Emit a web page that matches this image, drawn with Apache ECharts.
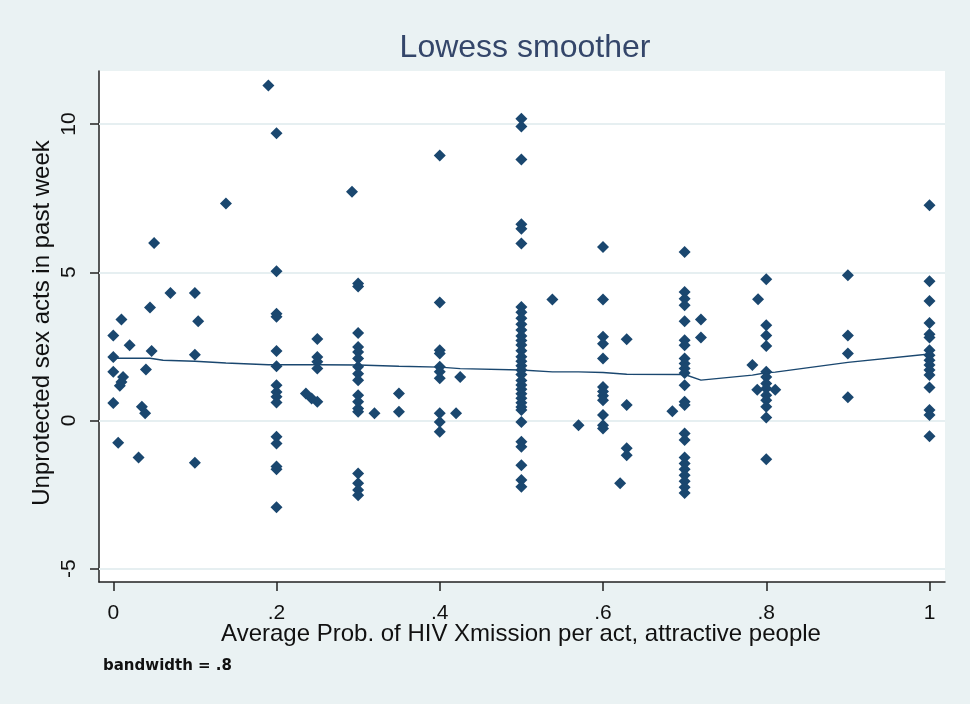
<!DOCTYPE html>
<html>
<head>
<meta charset="utf-8">
<title>Lowess smoother</title>
<script src="https://cdn.jsdelivr.net/npm/echarts@6/dist/echarts.min.js"></script>
<style>
  html, body { margin: 0; padding: 0; background: #eaf2f3; }
  #chart { width: 970px; height: 704px; }
</style>
</head>
<body>
<div id="chart"></div>
<script>
// x value of each column of points (prob. of HIV transmission per act)
const groupX = [
  0, 0.006, 0.008, 0.01, 0.012, 0.02, 0.031, 0.035, 0.039, 0.04, 0.045, 0.047, 0.05, 0.07,
  0.1, 0.104, 0.138, 0.19, 0.2, 0.236, 0.243, 0.25, 0.2925, 0.3, 0.32, 0.35,
  0.4, 0.42, 0.425, 0.5, 0.538, 0.57, 0.6, 0.621, 0.629, 0.685, 0.7, 0.72,
  0.783, 0.789, 0.79, 0.8, 0.811, 0.9, 1
]
// unprotected sex acts for the points in each column
const groupY = [
  [2.87, 2.14, 1.64, 0.59], [-0.75], [1.17], [3.41, 1.3], [1.47], [2.54], [-1.25], [0.46], [0.24],
  [1.72], [3.81], [2.34], [5.99], [4.3],
  [4.3, 2.22, -1.43], [3.35], [7.32], [11.3],
  [9.69, 5.03, 3.6, 3.5, 2.34, 1.83, 1.19, 0.96, 0.8, 0.61, -0.55, -0.78, -1.55, -1.65, -2.93],
  [0.91], [0.74], [2.75, 2.14, 1.98, 1.75, 0.63], [7.72],
  [4.62, 4.52, 2.95, 2.48, 2.31, 2.09, 1.81, 1.58, 1.36, 0.85, 0.63, 0.4, 0.29, -1.79, -2.12, -2.35, -2.52],
  [0.24], [0.91, 0.29],
  [8.94, 3.98, 2.37, 2.26, 1.81, 1.64, 1.42, 0.24, -0.05, -0.38], [0.24], [1.47],
  [10.18, 9.92, 8.8, 6.62, 6.47, 5.97, 3.83, 3.65, 3.45, 3.25, 3.05, 2.85, 2.7, 2.55, 2.35, 2.15,
   2.0, 1.85, 1.7, 1.55, 1.35, 1.2, 1.05, 0.9, 0.75, 0.6, 0.45, 0.35, -0.05, -0.72, -0.89, -1.51, -2.01, -2.24],
  [4.08], [-0.16],
  [5.85, 4.08, 2.82, 2.59, 2.09, 1.13, 0.98, 0.83, 0.68, 0.18, -0.16, -0.27], [-2.12],
  [2.74, 0.52, -0.94, -1.17], [0.31],
  [5.68, 4.33, 4.11, 3.89, 3.35, 2.71, 2.54, 2.09, 1.92, 1.75, 1.6, 1.19, 0.63, 0.52, -0.44, -0.66,
   -1.25, -1.45, -1.65, -1.85, -2.05, -2.25, -2.45],
  [3.41, 2.8],
  [1.87], [1.04], [4.09],
  [4.76, 3.21, 2.87, 2.51, 1.64, 1.47, 1.25, 1.08, 0.85, 0.68, 0.46, 0.1, -1.31], [1.04],
  [4.9, 2.87, 2.26, 0.78],
  [7.26, 4.7, 4.03, 3.29, 2.91, 2.8, 2.37, 2.2, 2.03, 1.87, 1.7, 1.53, 1.11, 0.35, 0.18, -0.53]
]
// lowess fit, bandwidth .8
const lowessX = [0, 0.045, 0.061, 0.1, 0.138, 0.19, 0.2, 0.25, 0.3, 0.35, 0.4, 0.425, 0.5, 0.538,
  0.57, 0.6, 0.629, 0.7, 0.72, 0.783, 0.8, 0.811, 0.9, 1]
const lowessY = [2.1, 2.1, 2.03, 2.0, 1.94, 1.88, 1.88, 1.88, 1.87, 1.83, 1.8, 1.75, 1.7, 1.64,
  1.64, 1.62, 1.56, 1.55, 1.36, 1.53, 1.61, 1.63, 1.96, 2.24]
const xTicks = [0, 0.2, 0.4, 0.6, 0.8, 1]
const yTicks = [-5, 0, 5, 10]

const navy = '#1a476f'
const font = '"Liberation Sans", Arial, sans-serif'

const points = []
groupX.forEach((x, i) => {
  groupY[i].forEach(y => points.push([x, y]))
})
const fit = lowessX.map((x, i) => [x, lowessY[i]])

function tickText(v) {
  if (v === 0 || v === 1) return String(v)
  return String(v).replace(/^0/, '')
}

const chart = echarts.init(document.getElementById('chart'))

chart.setOption({
  animation: false,
  backgroundColor: '#eaf2f3',
  title: {
    text: 'Lowess smoother',
    left: 520,
    top: 27,
    textAlign: 'center',
    textStyle: { fontFamily: font, fontSize: 32, fontWeight: 'normal', color: '#34466a' }
  },
  grid: {
    left: 99,
    top: 71,
    right: 25,
    bottom: 122,
    show: true,
    backgroundColor: '#ffffff',
    borderWidth: 0
  },
  xAxis: {
    type: 'value',
    min: -0.0175,
    max: 1.019,
    axisLine: { show: true, onZero: false, lineStyle: { color: '#222', width: 1.5 } },
    axisTick: { show: true, length: 9, customValues: xTicks, lineStyle: { color: '#222', width: 1.5 } },
    axisLabel: {
      customValues: xTicks,
      formatter: tickText,
      fontFamily: font,
      fontSize: 21,
      color: '#111',
      margin: 21
    },
    splitLine: { show: false }
  },
  yAxis: {
    type: 'value',
    min: -5.45,
    max: 11.79,
    axisLine: { show: true, onZero: false, lineStyle: { color: '#222', width: 1.5 } },
    axisTick: { show: true, length: 9, customValues: yTicks, lineStyle: { color: '#222', width: 1.5 } },
    axisLabel: {
      customValues: yTicks,
      rotate: 90,
      fontFamily: font,
      fontSize: 21,
      color: '#111',
      margin: 19
    },
    splitLine: { show: false }
  },
  graphic: [
    {
      type: 'text',
      x: 42,
      y: 323,
      rotation: Math.PI / 2,
      style: {
        text: 'Unprotected sex acts in past week',
        fontFamily: font,
        fontSize: 24,
        fill: '#111',
        align: 'center',
        verticalAlign: 'middle'
      }
    },
    {
      type: 'text',
      x: 521,
      y: 634,
      style: {
        text: 'Average Prob. of HIV Xmission per act, attractive people',
        fontFamily: font,
        fontSize: 24,
        fill: '#111',
        align: 'center',
        verticalAlign: 'middle'
      }
    },
    {
      type: 'text',
      x: 103,
      y: 666,
      style: {
        text: 'bandwidth = .8',
        fontFamily: '"DejaVu Sans", sans-serif',
        fontSize: 15,
        fontWeight: 'bold',
        fill: '#111',
        align: 'left',
        verticalAlign: 'middle'
      }
    }
  ],
  series: [
    {
      name: 'acts',
      type: 'scatter',
      data: points,
      symbol: 'diamond',
      symbolSize: 12,
      itemStyle: { color: navy, opacity: 1 },
      z: 3
    },
    {
      name: 'lowess',
      type: 'line',
      data: fit,
      showSymbol: false,
      symbol: 'none',
      lineStyle: { color: navy, width: 1.4 },
      z: 4,
      markLine: {
        silent: true,
        symbol: 'none',
        z: 1,
        label: { show: false },
        lineStyle: { color: '#e6eff1', width: 2, type: 'solid' },
        data: yTicks.map(v => ({ yAxis: v }))
      }
    }
  ]
})
</script>
</body>
</html>
